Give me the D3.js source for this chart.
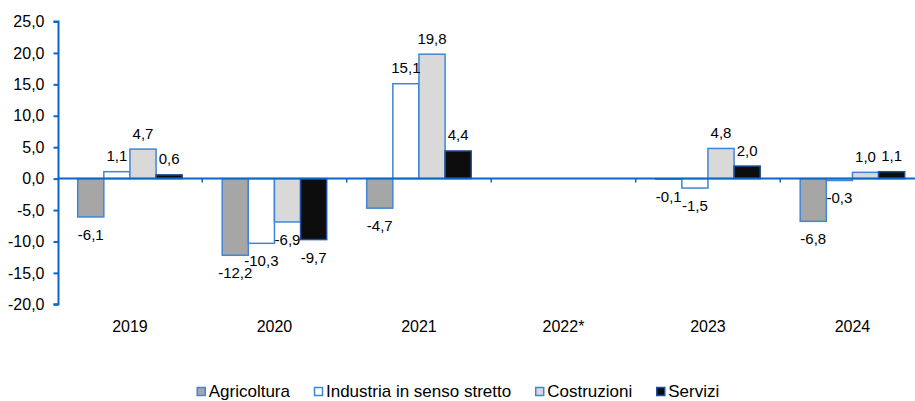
<!DOCTYPE html>
<html>
<head>
<meta charset="utf-8">
<script src="https://cdn.jsdelivr.net/npm/d3@7/dist/d3.min.js"></script>
<style>
  html, body { margin: 0; padding: 0; background: #fff; }
  svg { display: block; }
  text { font-family: "Liberation Sans", Arial, sans-serif; fill: #000; }
</style>
</head>
<body>
<svg id="chart" width="915" height="401"></svg>
<script>
const categories = ["2019", "2020", "2021", "2022*", "2023", "2024"];
const seriesNames = ["Agricoltura", "Industria in senso stretto", "Costruzioni", "Servizi"];
const agricoltura = [-6.1, -12.2, -4.7, null, -0.1, -6.8];
const industria   = [1.1, -10.3, 15.1, null, -1.5, -0.3];
const costruzioni = [4.7, -6.9, 19.8, null, 4.8, 1.0];
const servizi     = [0.6, -9.7, 4.4, null, 2.0, 1.1];
const yTicks = [-20, -15, -10, -5, 0, 5, 10, 15, 20, 25];

const seriesValues = [agricoltura, industria, costruzioni, servizi];
const fills = ["#a6a6a6", "#ffffff", "#d9d9d9", "#0d0d0d"];
const strokes = ["#3f86d6", "#3f86d6", "#3f86d6", "#1f4f9e"];
const axisColor = "#0a66c8";

const locale = d3.formatLocale({decimal: ",", thousands: ".", grouping: [3], currency: ["", "€"], minus: "-"});
const fmt = locale.format(".1f");

const svg = d3.select("#chart");

const x0 = d3.scaleBand().domain(categories).range([57.7, 924.7]).paddingInner(0).paddingOuter(0);
const groupPad = 20;
const x1 = d3.scaleBand().domain(seriesNames).range([groupPad, x0.bandwidth() - groupPad]).padding(0);
const y = d3.scaleLinear().domain([-20, 25]).range([304.3, 21.5]);

// bars
seriesNames.forEach((name, si) => {
  const vals = seriesValues[si];
  const data = categories.map((c, i) => ({c, v: vals[i]})).filter(d => d.v !== null);
  svg.append("g").selectAll("rect").data(data).join("rect")
    .attr("x", d => x0(d.c) + x1(name))
    .attr("width", x1.bandwidth())
    .attr("y", d => y(Math.max(0, d.v)))
    .attr("height", d => Math.abs(y(d.v) - y(0)))
    .attr("fill", fills[si])
    .attr("stroke", strokes[si])
    .attr("stroke-width", 1.5);
});

// zero axis line
svg.append("line")
  .attr("x1", 58.5).attr("x2", 915)
  .attr("y1", y(0)).attr("y2", y(0))
  .attr("stroke", axisColor).attr("stroke-width", 2);
// category ticks on zero line
svg.append("g").selectAll("line").data(categories.slice(1)).join("line")
  .attr("x1", d => x0(d)).attr("x2", d => x0(d))
  .attr("y1", y(0)).attr("y2", y(0) + 4)
  .attr("stroke", axisColor).attr("stroke-width", 1.5);

// y axis
const yAxis = d3.axisLeft(y).tickValues(yTicks).tickSize(5).tickPadding(9).tickFormat(fmt);
const gy = svg.append("g").attr("transform", "translate(58.5,0)").call(yAxis);
gy.select(".domain").attr("stroke", axisColor).attr("stroke-width", 2).attr("d", `M-5,${y(25)}H0V${y(-20)}H-5`);
gy.selectAll(".tick line").attr("stroke", axisColor).attr("stroke-width", 2);
gy.selectAll(".tick text").attr("font-size", 16).attr("font-family", '"Liberation Sans", Arial, sans-serif').attr("fill", "#000");

// x labels
svg.append("g").selectAll("text").data(categories).join("text")
  .attr("x", d => x0(d) + x0.bandwidth() / 2)
  .attr("y", 331.5)
  .attr("text-anchor", "middle")
  .attr("font-size", 16)
  .text(d => d);

// value labels
seriesNames.forEach((name, si) => {
  const vals = seriesValues[si];
  const data = categories.map((c, i) => ({c, v: vals[i]})).filter(d => d.v !== null);
  svg.append("g").selectAll("text").data(data).join("text")
    .attr("x", d => x0(d.c) + x1(name) + x1.bandwidth() / 2)
    .attr("y", d => d.v >= 0 ? y(d.v) - 10.5 : y(d.v) + 23)
    .attr("text-anchor", "middle")
    .attr("font-size", 15)
    .text(d => fmt(d.v));
});

// legend
const legend = svg.append("g");
let lx = 0;
seriesNames.forEach((name, si) => {
  const g = legend.append("g");
  g.append("rect").attr("x", 0.5).attr("y", 387.5).attr("width", 8).attr("height", 8)
    .attr("fill", fills[si]).attr("stroke", strokes[si]).attr("stroke-width", 1.5);
  const t = g.append("text").attr("x", 12).attr("y", 397).attr("font-size", 17).text(name);
  const w = 12 + t.node().getComputedTextLength();
  g.attr("transform", `translate(${lx},0)`);
  lx += w + 24;
});
const totalW = lx - 24;
legend.attr("transform", `translate(${458 - totalW / 2},0)`);
</script>
</body>
</html>
